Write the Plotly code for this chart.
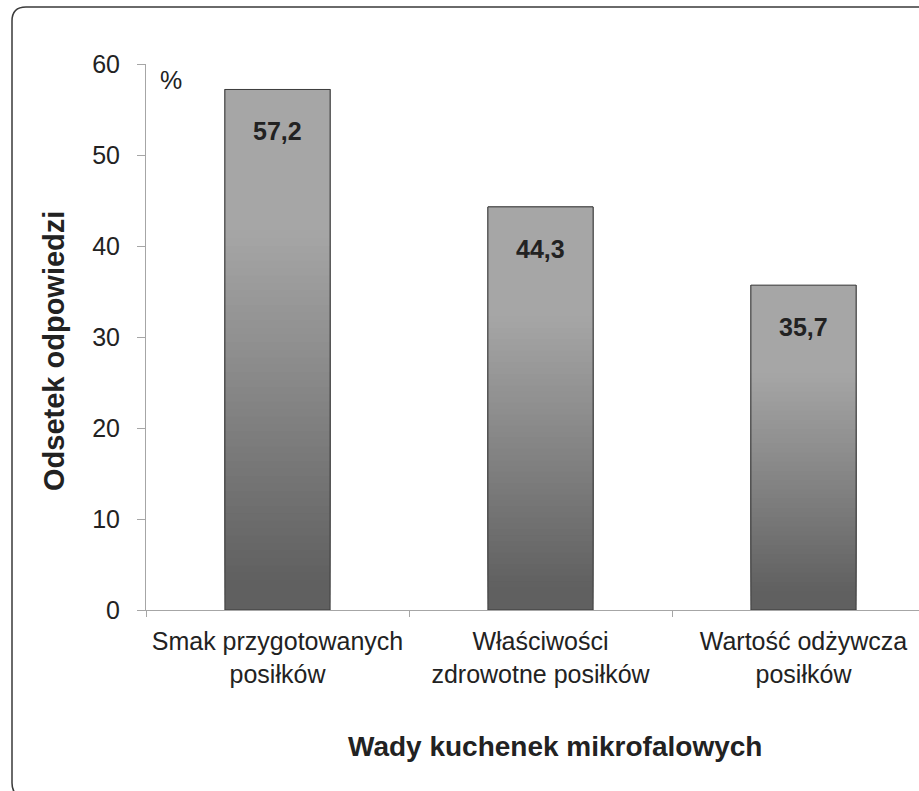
import plotly.graph_objects as go

categories = ["Smak przygotowanych<br>posiłków",
              "Właściwości<br>zdrowotne posiłków",
              "Wartość odżywcza<br>posiłków"]
values = [57.2, 44.3, 35.7]
value_labels = ["57,2", "44,3", "35,7"]
y_ticks = [0, 10, 20, 30, 40, 50, 60]

W, H = 919, 791
ML, MR, MT, MB = 146, 0, 64, 181
PW, PH = W - ML - MR, H - MT - MB


def px(x):
    return (x - ML) / PW


def py(y):
    return (H - MB - y) / PH


def grad(f):
    lo, hi = 96, 166
    if f <= 0.05:
        g = lo
    elif f >= 0.72:
        g = hi
    else:
        g = lo + (f - 0.05) / 0.67 * (hi - lo)
    g = int(round(g))
    return f"rgb({g},{g},{g})"


# gradient fill: overlapping layers, each from a fraction of the bar value to its top
N = 70
seg_x, seg_base, seg_h, seg_c = [], [], [], []
for c, v in zip(categories, values):
    for k in range(N):
        seg_x.append(c)
        seg_base.append(v * k / N)
        seg_h.append(v * (1 - k / N))
        seg_c.append(grad(k / N))

fig = go.Figure()
fig.add_trace(go.Bar(x=seg_x, y=seg_h, base=seg_base, width=0.4,
                     marker=dict(color=seg_c, line=dict(width=0)),
                     hoverinfo="skip", showlegend=False))
fig.add_trace(go.Bar(x=categories, y=values, width=0.4,
                     marker=dict(color="rgba(0,0,0,0)",
                                 line=dict(color="#3c3c3c", width=1)),
                     showlegend=False))

annotations = []
for c, v, t in zip(categories, values, value_labels):
    annotations.append(dict(x=c, y=v, xref="x", yref="y", text=f"<b>{t}</b>",
                            showarrow=False, yanchor="top", yshift=-26,
                            font=dict(size=25, color="#222222",
                                      family="Liberation Sans, Arial")))
annotations.append(dict(x=px(158), y=py(80), xref="paper", yref="paper",
                        text="%", showarrow=False, xanchor="left", yanchor="middle",
                        font=dict(size=25, color="#222222", family="Liberation Sans, Arial")))
annotations.append(dict(x=px(555), y=py(746), xref="paper", yref="paper",
                        text="<b>Wady kuchenek mikrofalowych</b>", showarrow=False,
                        xanchor="center", yanchor="middle",
                        font=dict(size=28, color="#222222", family="Liberation Sans, Arial")))
annotations.append(dict(x=px(54), y=py(351), xref="paper", yref="paper",
                        text="<b>Odsetek odpowiedzi</b>", showarrow=False, textangle=-90,
                        xanchor="center", yanchor="middle",
                        font=dict(size=29, color="#222222", family="Liberation Sans, Arial")))

box_path = (f"M {px(940)},{py(797)} L {px(26)},{py(797)} "
            f"Q {px(12)},{py(797)} {px(12)},{py(783)} L {px(12)},{py(21)} "
            f"Q {px(12)},{py(7)} {px(26)},{py(7)} L {px(940)},{py(7)}")

fig.update_layout(
    width=W, height=H,
    margin=dict(l=ML, r=MR, t=MT, b=MB, pad=0),
    paper_bgcolor="white", plot_bgcolor="white",
    barmode="overlay",
    font=dict(family="Liberation Sans, Arial", size=25, color="#222222"),
    annotations=annotations,
    shapes=[dict(type="path", path=box_path, xref="paper", yref="paper",
                 line=dict(color="#3a3a3a", width=1.5), layer="above")],
    xaxis=dict(type="category", categoryorder="array", categoryarray=categories,
               range=[-0.5, -0.5 + PW / 263.0],
               showline=True, linecolor="#a6a6a6", linewidth=1,
               ticks="outside", ticklen=6, tickcolor="#a6a6a6", tickson="boundaries",
               showgrid=False, zeroline=False, ticklabelstandoff=9,
               tickfont=dict(size=25, color="#222222")),
    yaxis=dict(range=[0, 60], tickvals=y_ticks, showline=True, linecolor="#a6a6a6",
               linewidth=1, ticks="outside", ticklen=8, tickcolor="#a6a6a6",
               showgrid=False, zeroline=False, ticklabelstandoff=12,
               tickfont=dict(size=25, color="#222222")),
)

fig.write_html("out.html", config={"displayModeBar": False},
               post_script="document.body.style.margin='0';document.body.style.padding='0';")
